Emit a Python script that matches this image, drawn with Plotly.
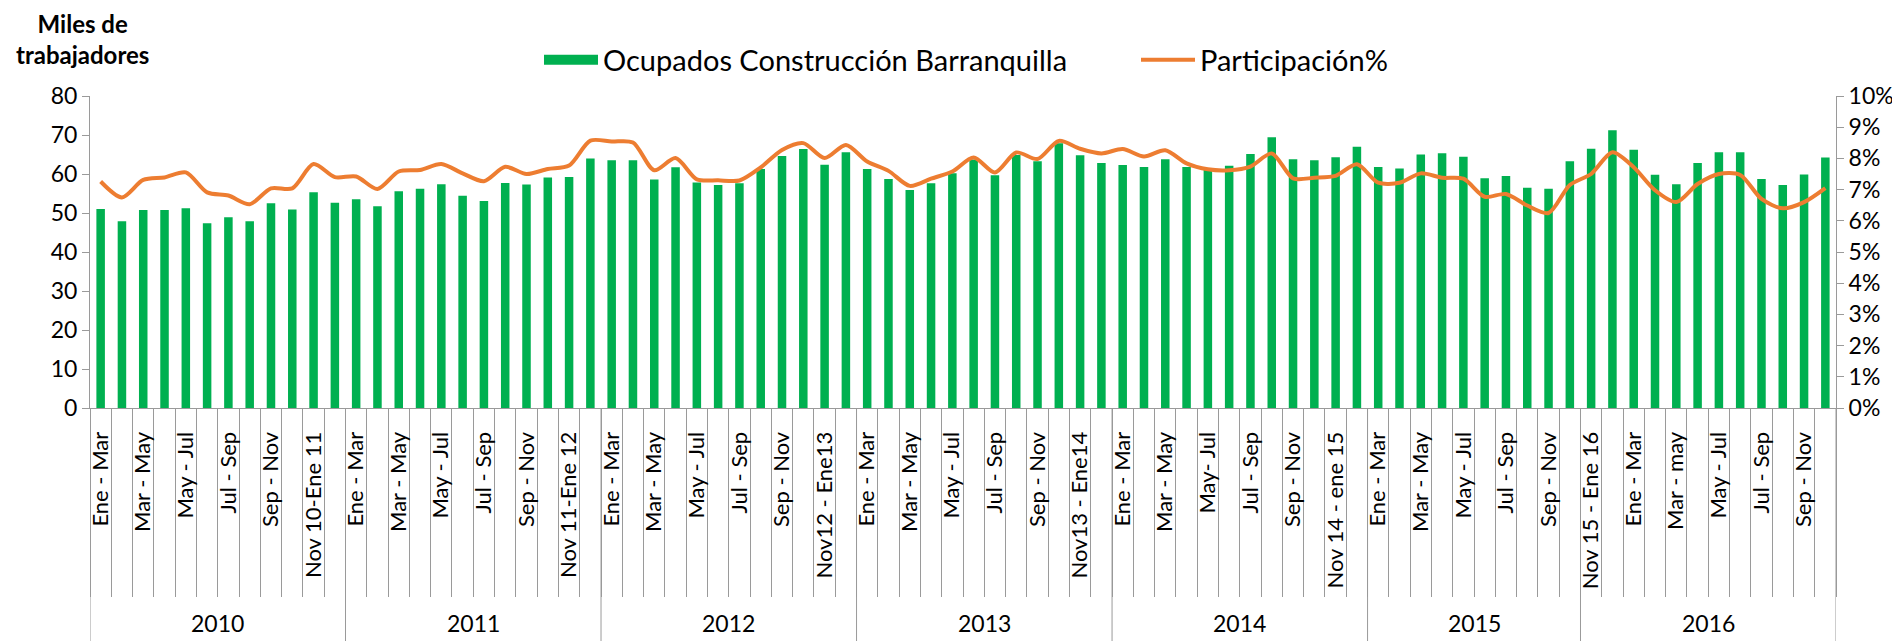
import plotly.graph_objects as go

# ---------------- data ----------------
years = ["2010", "2011", "2012", "2013", "2014", "2015", "2016"]
year_counts = [12, 12, 12, 12, 12, 10, 12]

periods = [
    # 2010
    "Ene - Mar", "Feb - Abr", "Mar - May", "Abr - Jun", "May - Jul", "Jun - Ago",
    "Jul - Sep", "Ago - Oct", "Sep - Nov", "Oct - Dic", "Nov 10-Ene 11", "Dic - Feb",
    # 2011
    "Ene - Mar", "Feb - Abr", "Mar - May", "Abr - Jun", "May - Jul", "Jun - Ago",
    "Jul - Sep", "Ago - Oct", "Sep - Nov", "Oct - Dic", "Nov 11-Ene 12", "Dic - Feb",
    # 2012
    "Ene - Mar", "Feb - Abr", "Mar - May", "Abr - Jun", "May - Jul", "Jun - Ago",
    "Jul - Sep", "Ago - Oct", "Sep - Nov", "Oct - Dic", "Nov12 - Ene13", "Dic - Feb",
    # 2013
    "Ene - Mar", "Feb - Abr", "Mar - May", "Abr - Jun", "May - Jul", "Jun - Ago",
    "Jul - Sep", "Ago - Oct", "Sep - Nov", "Oct - Dic", "Nov13 - Ene14", "Dic - Feb",
    # 2014
    "Ene - Mar", "Feb - Abr", "Mar - May", "Abr - Jun", "May- Jul", "Jun - Ago",
    "Jul - Sep", "Ago - Oct", "Sep - Nov", "Oct - Dic", "Nov 14 - ene 15", "Dic - Feb",
    # 2015
    "Ene - Mar", "Feb - Abr", "Mar - May", "Abr - Jun", "May - Jul", "Jun - Ago",
    "Jul - Sep", "Ago - Oct", "Sep - Nov", "Oct - Dic",
    # 2016
    "Nov 15 - Ene 16", "Dic - Feb", "Ene - Mar", "Feb - Abr", "Mar - may", "Abr - Jun",
    "May - Jul", "Jun - Ago", "Jul - Sep", "Ago - Oct", "Sep - Nov", "Oct - Dic",
]

ocupados = [
    51.0, 47.9, 50.8, 50.8, 51.2, 47.4, 48.9, 47.9, 52.5, 50.9, 55.3, 52.6,
    53.5, 51.7, 55.6, 56.2, 57.4, 54.4, 53.1, 57.7, 57.3, 59.1, 59.2, 64.0,
    63.5, 63.5, 58.6, 61.7, 57.8, 57.2, 57.6, 61.3, 64.6, 66.4, 62.4, 65.6,
    61.3, 58.7, 55.9, 57.6, 60.2, 63.7, 59.7, 64.9, 63.3, 67.9, 64.8, 62.8,
    62.3, 61.8, 63.8, 61.8, 61.0, 62.1, 65.1, 69.4, 63.8, 63.5, 64.3, 67.0,
    61.8, 61.4, 65.0, 65.3, 64.4, 58.9, 59.5, 56.5, 56.2, 63.3,
    66.5, 71.2, 66.2, 59.8, 57.4, 62.8, 65.6, 65.6, 58.7, 57.2, 59.9, 64.2,
]

participacion = [
    7.26, 6.75, 7.31, 7.39, 7.55, 6.91, 6.81, 6.53, 7.04, 7.04, 7.82, 7.40,
    7.42, 7.02, 7.58, 7.63, 7.82, 7.52, 7.27, 7.73, 7.50, 7.66, 7.77, 8.57,
    8.54, 8.51, 7.62, 8.01, 7.33, 7.30, 7.29, 7.71, 8.27, 8.49, 8.01, 8.43,
    7.90, 7.60, 7.12, 7.35, 7.58, 8.03, 7.55, 8.19, 7.98, 8.56, 8.31, 8.16,
    8.30, 8.06, 8.26, 7.84, 7.65, 7.62, 7.74, 8.16, 7.36, 7.38, 7.44, 7.81,
    7.22, 7.22, 7.52, 7.38, 7.35, 6.77, 6.86, 6.49, 6.25, 7.15,
    7.50, 8.20, 7.72, 6.98, 6.60, 7.18, 7.50, 7.47, 6.70, 6.40, 6.60, 7.05,
]

left_ticks = [0, 10, 20, 30, 40, 50, 60, 70, 80]
right_ticks = [0, 1, 2, 3, 4, 5, 6, 7, 8, 9, 10]
right_ticktext = [f"{v}%" for v in right_ticks]

# ---------------- figure ----------------
FONT = "Lato, 'Open Sans', sans-serif"
AXIS_GREY = "#9A9A9A"
GREEN = "#00B050"
ORANGE = "#ED7D31"
W, H = 1900, 641
M_L, M_R, M_T, M_B = 82, 72, 88, 241
plot_w = W - M_L - M_R
plot_h = H - M_T - M_B

idx = list(range(len(periods)))

fig = go.Figure()
fig.add_trace(go.Bar(
    x=idx, y=ocupados, name="Ocupados Construcción Barranquilla",
    marker=dict(color=GREEN, line=dict(width=0)),
    yaxis="y", showlegend=False, legendgroup="ocup",
))
# legend proxy giving the wide green box of the original legend
fig.add_trace(go.Scatter(
    x=[None], y=[None], name="Ocupados Construcción Barranquilla",
    mode="lines", line=dict(color=GREEN, width=20),
    yaxis="y", legendgroup="ocup", hoverinfo="skip",
))
fig.add_trace(go.Scatter(
    x=idx, y=participacion, name="Participación%", mode="lines",
    line=dict(color=ORANGE, width=4, shape="spline", smoothing=0.8),
    yaxis="y2",
))

# year group boundaries and labels
bounds = [-0.5]
for c in year_counts:
    bounds.append(bounds[-1] + c)

shapes = []
for b in bounds:
    shapes.append(dict(type="line", xref="x", yref="paper", x0=b, x1=b,
                       y0=0, y1=-(H - (M_T + plot_h)) / plot_h,
                       line=dict(color=AXIS_GREY, width=1)))

annotations = []
for i, yr in enumerate(years):
    annotations.append(dict(
        x=(bounds[i] + bounds[i + 1]) / 2, xref="x",
        y=-(615 - (M_T + plot_h)) / plot_h, yref="paper",
        text=yr, showarrow=False, xanchor="center", yanchor="middle",
        font=dict(family=FONT, size=23, color="black"),
    ))
annotations.append(dict(
    x=(74 - M_L) / plot_w, xref="paper",
    y=1 + (M_T + 1) / plot_h, yref="paper",
    text="<b>Miles de<br>trabajadores</b>", showarrow=False,
    xanchor="center", yanchor="top", align="center",
    font=dict(family=FONT, size=24, color="black"),
))

fig.update_layout(
    width=W, height=H,
    margin=dict(l=M_L, r=M_R, t=M_T, b=M_B, pad=0),
    paper_bgcolor="white", plot_bgcolor="white",
    bargap=0.6,
    showlegend=True,
    legend=dict(orientation="h", x=(531 - M_L) / plot_w, xanchor="left",
                y=1 + (M_T - 52) / plot_h, yanchor="middle",
                font=dict(family=FONT, size=29, color="black"),
                itemwidth=54, traceorder="normal",
                entrywidth=528, entrywidthmode="pixels",
                bgcolor="rgba(0,0,0,0)"),
    font=dict(family=FONT, size=23, color="black"),
    xaxis=dict(
        range=[-0.5, len(periods) - 0.5],
        tickmode="array",
        tickvals=idx[::2], ticktext=periods[::2],
        tickangle=-90,
        ticks="outside", ticklen=14, tickcolor="rgba(0,0,0,0)",
        tickfont=dict(family=FONT, size=22, color="black"),
        showline=True, linecolor=AXIS_GREY, linewidth=1,
        showgrid=False, zeroline=False,
        minor=dict(tickmode="linear", tick0=-0.5, dtick=1,
                   ticks="outside", ticklen=188, tickcolor=AXIS_GREY, tickwidth=1,
                   showgrid=False),
    ),
    yaxis=dict(
        range=[0, 80], tickmode="array", tickvals=left_ticks,
        ticks="outside", ticklen=7, tickcolor=AXIS_GREY,
        showline=True, linecolor=AXIS_GREY, linewidth=1,
        showgrid=False, zeroline=False,
        tickfont=dict(family=FONT, size=23, color="black"),
    ),
    yaxis2=dict(
        range=[0, 10], tickmode="array", tickvals=right_ticks, ticktext=right_ticktext,
        overlaying="y", side="right",
        ticks="outside", ticklen=7, tickcolor=AXIS_GREY,
        showline=True, linecolor=AXIS_GREY, linewidth=1,
        showgrid=False, zeroline=False,
        tickfont=dict(family=FONT, size=23, color="black"),
    ),
    shapes=shapes,
    annotations=annotations,
)

fig.write_html("out.html")
